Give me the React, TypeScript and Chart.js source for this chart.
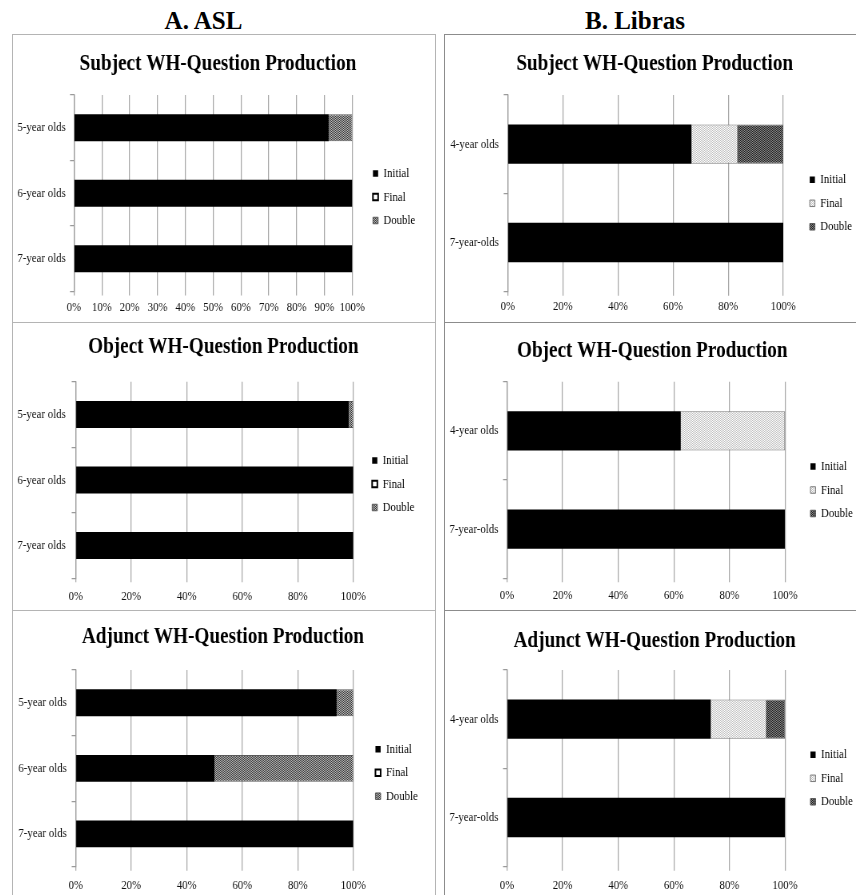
import React, { useEffect, useRef } from 'react';
import { Chart, registerables } from 'chart.js';

Chart.register(...registerables);

const FONT = "'Liberation Serif', 'Times New Roman', serif";

// ---------- data ----------
const seriesNames = ['Initial', 'Final', 'Double'];
const aslGroups = ['5-year olds', '6-year olds', '7-year olds'];
const librasGroups = ['4-year olds', '7-year-olds'];

const aslSubjectInitial = [91.5, 100, 100];
const aslSubjectFinal = [0, 0, 0];
const aslSubjectDouble = [8.5, 0, 0];

const aslObjectInitial = [98.4, 100, 100];
const aslObjectFinal = [0, 0, 0];
const aslObjectDouble = [1.6, 0, 0];

const aslAdjunctInitial = [94, 50, 100];
const aslAdjunctFinal = [0, 0, 0];
const aslAdjunctDouble = [6, 50, 0];

const librasSubjectInitial = [66.7, 100];
const librasSubjectFinal = [16.7, 0];
const librasSubjectDouble = [16.6, 0];

const librasObjectInitial = [62.5, 100];
const librasObjectFinal = [37.5, 0];
const librasObjectDouble = [0, 0];

const librasAdjunctInitial = [73.3, 100];
const librasAdjunctFinal = [20, 0];
const librasAdjunctDouble = [6.7, 0];

const subjectTitle = 'Subject WH-Question Production';
const objectTitle = 'Object WH-Question Production';
const adjunctTitle = 'Adjunct WH-Question Production';
const headerA = 'A. ASL';
const headerB = 'B. Libras';

// ---------- layout (display px) ----------
type Geo = {
  L: number; T: number; W: number; H: number;
  plotLeft: number; plotRight: number; plotTop: number; plotBottom: number;
  titleX: number; titleY: number; yLabelRight: number; xLabelY: number;
  legendTextX: number; legendMidY: number;
};

const geoA1: Geo = { L: 13, T: 35, W: 422, H: 286, plotLeft: 74, plotRight: 352.3, plotTop: 95, plotBottom: 291.5, titleX: 218, titleY: 63.3, yLabelRight: 65.7, xLabelY: 307.5, legendTextX: 383.5, legendMidY: 197 };
const geoA2: Geo = { L: 13, T: 323, W: 422, H: 286, plotLeft: 75.7, plotRight: 353.3, plotTop: 381.7, plotBottom: 578.3, titleX: 223.3, titleY: 346.7, yLabelRight: 65.7, xLabelY: 596.5, legendTextX: 382.7, legendMidY: 484 };
const geoA3: Geo = { L: 13, T: 611, W: 422, H: 284, plotLeft: 75.7, plotRight: 353.3, plotTop: 670, plotBottom: 866.7, titleX: 223, titleY: 636.7, yLabelRight: 66.7, xLabelY: 885, legendTextX: 386, legendMidY: 772.7 };
const geoB1: Geo = { L: 445, T: 35, W: 411, H: 286, plotLeft: 507.7, plotRight: 783.3, plotTop: 95, plotBottom: 291.7, titleX: 654.7, titleY: 63.3, yLabelRight: 498.7, xLabelY: 306.7, legendTextX: 820.3, legendMidY: 203.3 };
const geoB2: Geo = { L: 445, T: 323, W: 411, H: 286, plotLeft: 507, plotRight: 785, plotTop: 381.7, plotBottom: 578.3, titleX: 652.2, titleY: 350.7, yLabelRight: 498.3, xLabelY: 595.7, legendTextX: 821, legendMidY: 490 };
const geoB3: Geo = { L: 445, T: 611, W: 411, H: 284, plotLeft: 507, plotRight: 785, plotTop: 670, plotBottom: 866.7, titleX: 654.7, titleY: 640.7, yLabelRight: 498.3, xLabelY: 885, legendTextX: 821, legendMidY: 778.3 };

const SQUEEZE = 0.8;

function makePattern(ctx: CanvasRenderingContext2D, a: string, b: string) {
  const c = document.createElement('canvas');
  c.width = 2;
  c.height = 2;
  const g = c.getContext('2d')!;
  g.fillStyle = b;
  g.fillRect(0, 0, 2, 2);
  g.fillStyle = a;
  g.fillRect(0, 0, 1, 1);
  g.fillRect(1, 1, 1, 1);
  return ctx.createPattern(c, 'repeat');
}

type PanelProps = {
  geo: Geo; title: string; groups: string[];
  initial: number[]; final: number[]; double: number[];
  step: number; kind: 'asl' | 'libras'; barPct: number;
};

function Panel({ geo, title, groups, initial, final, double, step, kind, barPct }: PanelProps) {
  const ref = useRef<HTMLCanvasElement>(null);
  const Wi = Math.round(geo.W / SQUEEZE);

  useEffect(() => {
    const canvas = ref.current!;
    const ctx = canvas.getContext('2d')!;
    const s = geo.W / Wi;
    const ix = (x: number) => (x - geo.L) / s;
    const iy = (y: number) => y - geo.T;
    const caL = ix(geo.plotLeft);
    const caR = ix(geo.plotRight);
    const caT = iy(geo.plotTop);
    const caB = iy(geo.plotBottom);
    const TITLE_SIZE = 24;
    const lh = TITLE_SIZE * 1.2;
    const tY = iy(geo.titleY);
    const titlePadTop = tY - lh / 2;
    const titlePadBottom = caT - tY - lh / 2;
    const titleDx = ix(geo.titleX) - Wi / 2;
    const yW = caL;
    const yTickLen = 5;
    const yPad = caL - ix(geo.yLabelRight) - yTickLen;
    const FS = 13.5;
    const xH = geo.H - caB;
    const xTickLen = 4;
    const xPad = iy(geo.xLabelY) - caB - FS * 0.6 - xTickLen;
    const legendW = Wi - caR;
    const LP = 10;
    const BW = 6.5;
    const dx = ix(geo.legendTextX) - (LP + BW + FS / 2) - caR;
    const dy = iy(geo.legendMidY) - (caT + caB) / 2;

    const darkA = makePattern(ctx, '#3a3a3a', '#b8b8b8');
    const darkB = makePattern(ctx, '#1e1e1e', '#8c8c8c');
    const light = makePattern(ctx, '#ffffff', '#c0c0c0');

    const datasets = [
      {
        label: seriesNames[0], data: initial, backgroundColor: '#000000',
        borderWidth: 0, barPercentage: barPct, categoryPercentage: 1,
      },
      kind === 'asl'
        ? { label: seriesNames[1], data: final, backgroundColor: '#ffffff', borderColor: '#000000', borderWidth: 2, barPercentage: barPct, categoryPercentage: 1 }
        : { label: seriesNames[1], data: final, backgroundColor: light, borderColor: '#7a7a7a', borderWidth: 1, barPercentage: barPct, categoryPercentage: 1 },
      {
        label: seriesNames[2], data: double, backgroundColor: kind === 'asl' ? darkA : darkB,
        borderColor: '#5a5a5a', borderWidth: 1, barPercentage: barPct, categoryPercentage: 1,
      },
    ];

    const layoutPlugin = {
      id: 'panelLayout',
      beforeLayout(chart: any) {
        const lg = chart.legend;
        if (lg && !lg.__patched) {
          const orig = lg.fit.bind(lg);
          lg.fit = function () {
            orig();
            this.width = legendW;
          };
          lg.__patched = true;
        }
      },
      afterLayout(chart: any) {
        const lg = chart.legend;
        if (lg) {
          lg.left += dx;
          lg.right += dx;
          lg.top += dy;
          lg.bottom += dy;
        }
        const tb = chart.titleBlock;
        if (tb) {
          tb.left += titleDx;
          tb.right += titleDx;
        }
      },
    };

    const tickFont = { family: FONT, size: FS };
    const chart = new Chart(canvas, {
      type: 'bar',
      data: { labels: groups, datasets: datasets as any },
      options: {
        animation: false,
        responsive: false,
        events: [],
        indexAxis: 'y',
        layout: { padding: 0 },
        plugins: {
          title: {
            display: true, text: title, color: '#000',
            font: { family: FONT, size: TITLE_SIZE, weight: 'bold', lineHeight: 1.2 },
            padding: { top: titlePadTop, bottom: titlePadBottom },
          },
          legend: {
            display: true, position: 'right', align: 'center', fullSize: false,
            labels: { boxWidth: BW, boxHeight: 6.5, padding: LP, color: '#000', font: { family: FONT, size: FS } },
          },
          tooltip: { enabled: false },
        },
        scales: {
          x: {
            type: 'linear', stacked: true, min: 0, max: 100, position: 'bottom',
            afterFit: (sc: any) => { sc.height = xH; },
            grid: { color: '#a8a8a8', lineWidth: 1.25, drawTicks: true, tickLength: xTickLen, tickColor: '#a8a8a8' },
            border: { display: false },
            ticks: {
              stepSize: step, autoSkip: false, maxRotation: 0, minRotation: 0, padding: xPad,
              color: '#111', font: tickFont, callback: (v: any) => v + '%',
            },
          },
          y: {
            type: 'category', stacked: true, position: 'left',
            afterFit: (sc: any) => { sc.width = yW; },
            grid: { offset: true, drawOnChartArea: false, drawTicks: true, tickLength: yTickLen, color: '#9a9a9a', lineWidth: 1.25 },
            border: { display: true, color: '#9a9a9a', width: 1.25 },
            ticks: { padding: yPad, color: '#111', font: tickFont },
          },
        },
      } as any,
      plugins: [layoutPlugin as any],
    });
    return () => chart.destroy();
  }, []);

  return (
    <canvas
      ref={ref}
      width={Wi}
      height={geo.H}
      style={{ position: 'absolute', left: geo.L, top: geo.T, width: geo.W, height: geo.H }}
    />
  );
}

function Line({ x, y, w, h, c }: { x: number; y: number; w: number; h: number; c: string }) {
  return <div style={{ position: 'absolute', left: x, top: y, width: w, height: h, background: c }} />;
}

export default function App() {
  const cA = '#b4b4b4';
  const cB = '#8c8c8c';
  const headerStyle: React.CSSProperties = {
    position: 'absolute', top: 8, width: 220, textAlign: 'center',
    fontFamily: FONT, fontWeight: 'bold', fontSize: 25, lineHeight: '25px', color: '#000',
  };
  return (
    <div style={{ position: 'absolute', left: 0, top: 0, width: 856, height: 895, overflow: 'hidden', background: '#fff' }}>
      <div style={{ ...headerStyle, left: 93.5 }}>{headerA}</div>
      <div style={{ ...headerStyle, left: 525 }}>{headerB}</div>

      <Line x={12} y={34} w={424} h={1} c={cA} />
      <Line x={12} y={34} w={1} h={861} c={cA} />
      <Line x={435} y={34} w={1} h={861} c={cA} />
      <Line x={12} y={322} w={424} h={1} c={cA} />
      <Line x={12} y={610} w={424} h={1} c={cA} />

      <Line x={444} y={34} w={412} h={1} c={cB} />
      <Line x={444} y={34} w={1} h={861} c={cB} />
      <Line x={444} y={322} w={412} h={1} c={cB} />
      <Line x={444} y={610} w={412} h={1} c={cB} />

      <Panel geo={geoA1} title={subjectTitle} groups={aslGroups} initial={aslSubjectInitial} final={aslSubjectFinal} double={aslSubjectDouble} step={10} kind="asl" barPct={0.41} />
      <Panel geo={geoA2} title={objectTitle} groups={aslGroups} initial={aslObjectInitial} final={aslObjectFinal} double={aslObjectDouble} step={20} kind="asl" barPct={0.41} />
      <Panel geo={geoA3} title={adjunctTitle} groups={aslGroups} initial={aslAdjunctInitial} final={aslAdjunctFinal} double={aslAdjunctDouble} step={20} kind="asl" barPct={0.41} />
      <Panel geo={geoB1} title={subjectTitle} groups={librasGroups} initial={librasSubjectInitial} final={librasSubjectFinal} double={librasSubjectDouble} step={20} kind="libras" barPct={0.4} />
      <Panel geo={geoB2} title={objectTitle} groups={librasGroups} initial={librasObjectInitial} final={librasObjectFinal} double={librasObjectDouble} step={20} kind="libras" barPct={0.4} />
      <Panel geo={geoB3} title={adjunctTitle} groups={librasGroups} initial={librasAdjunctInitial} final={librasAdjunctFinal} double={librasAdjunctDouble} step={20} kind="libras" barPct={0.4} />
    </div>
  );
}
